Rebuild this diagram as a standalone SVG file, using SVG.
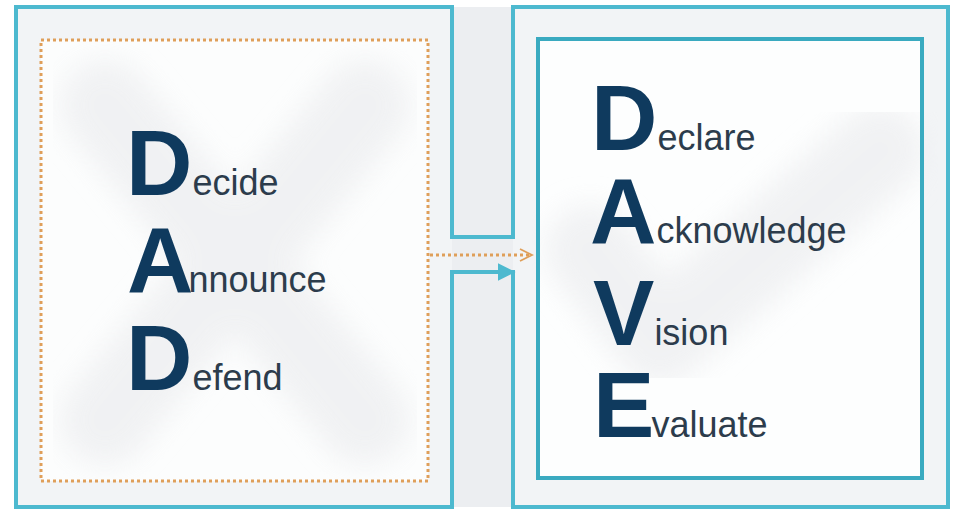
<svg xmlns="http://www.w3.org/2000/svg" width="959" height="510" viewBox="0 0 959 510">
<defs>
<style>
.frame{fill:none;stroke:#4db9cf;stroke-width:4;stroke-linejoin:miter}
.inner{fill:#fdfefe;stroke:#3aaac0;stroke-width:4}
.dots{fill:none;stroke:#df9f5a;stroke-width:3;stroke-dasharray:3 3}
.big{font-family:"Liberation Sans",Arial,sans-serif;font-weight:bold;font-size:92px;fill:#0f3a5e}
.small{font-family:"Liberation Sans",Arial,sans-serif;font-size:36px;fill:#2c3c4c}
.ghost{fill:none;stroke:#eeeff1;stroke-width:90;stroke-linecap:round;stroke-linejoin:round}
</style>
<filter id="blur" x="-20%" y="-20%" width="140%" height="140%"><feGaussianBlur stdDeviation="14"/></filter>
<marker id="solid" viewBox="0 0 10 10" refX="8" refY="5" markerWidth="4.5" markerHeight="4.5" orient="auto" markerUnits="strokeWidth">
<path d="M0,0 L10,5 L0,10 Z" fill="#4db9cf"/>
</marker>
<marker id="open" viewBox="0 0 10 10" refX="9" refY="5" markerWidth="5" markerHeight="5" orient="auto" markerUnits="strokeWidth">
<path d="M1,1 L9,5 L1,9" fill="none" stroke="#df9f5a" stroke-width="1.2"/>
</marker>
</defs>
<rect x="0" y="0" width="959" height="510" fill="#ffffff"/>
<g id="background">
<path d="M16,7 H452 V237 H513 V7 H948 V507 H513 V272 H452 V507 H16 Z" fill="#f2f4f6"/>
<rect x="452" y="7" width="61" height="500" fill="#eceef1"/>
</g>
<g id="dad">
<rect x="41" y="40" width="387" height="441" fill="#fcfdfd"/>
<g filter="url(#blur)" opacity="0.8">
<path class="ghost" d="M105,105 L365,420 M365,105 L105,420"/>
</g>
<rect class="dots" x="41" y="40" width="387" height="441"/>
<text x="126" y="195"><tspan class="big">D</tspan><tspan class="small">ecide</tspan></text>
<text x="127" y="292"><tspan class="big">A</tspan><tspan class="small" dx="-5">nnounce</tspan></text>
<text x="126" y="390"><tspan class="big">D</tspan><tspan class="small">efend</tspan></text>
</g>
<g id="dave">
<rect class="inner" x="538" y="39" width="384" height="439"/>
<g filter="url(#blur)" opacity="0.8">
<path class="ghost" d="M590,250 L660,340 L880,150"/>
</g>
<rect x="538" y="39" width="384" height="439" fill="none" stroke="#3aaac0" stroke-width="4"/>
<text x="591" y="150"><tspan class="big">D</tspan><tspan class="small">eclare</tspan></text>
<text x="590" y="243"><tspan class="big">A</tspan><tspan class="small">cknowledge</tspan></text>
<text x="593" y="345"><tspan class="big">V</tspan><tspan class="small">ision</tspan></text>
<text x="593" y="437"><tspan class="big">E</tspan><tspan class="small" dx="-3">valuate</tspan></text>
</g>
<g id="connectors">
<path class="frame" d="M16,7 H452 V237 H513 V7 H948 V507 H513 V272 H452 V507 H16 Z"/>
<path class="frame" d="M452,272 H512" marker-end="url(#solid)"/>
<path class="dots" d="M430,255 H532" marker-end="url(#open)"/>
</g>
</svg>
